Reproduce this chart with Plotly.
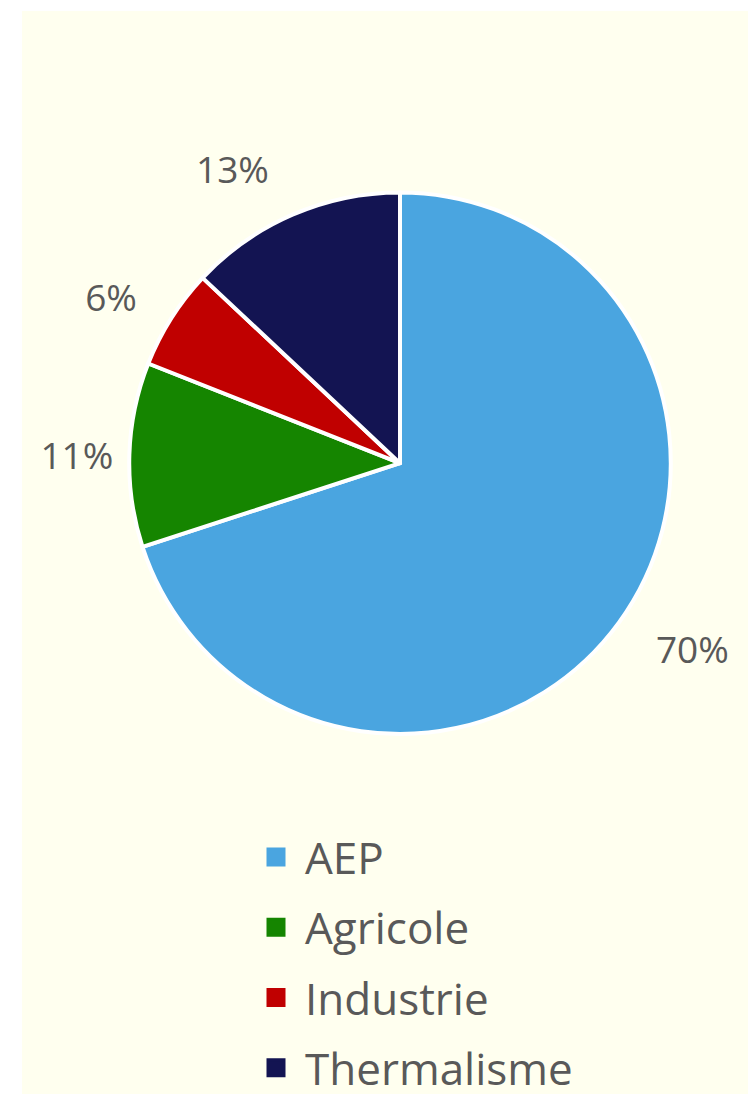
import plotly.graph_objects as go

categories = ["AEP", "Agricole", "Industrie", "Thermalisme"]
values = [70, 11, 6, 13]
colors = ["#4AA5E0", "#158500", "#C00000", "#131452"]

# label offsets (style only): push outside labels a bit further out, like the original
label_pull = [0.11, 0.012, 0.095, 0.10]

W, H = 748, 1103
cx, cy, r = 400, 467, 273
TEXT = "#595959"


def domain(radius):
    return dict(x=[(cx - radius) / W, (cx + radius) / W],
                y=[1 - (cy + radius) / H, 1 - (cy - radius) / H])


fig = go.Figure()
# visible pie
fig.add_trace(go.Pie(
    labels=categories, values=values, sort=False, direction="clockwise", rotation=0,
    marker=dict(colors=colors, line=dict(color="#FFFFFF", width=4)),
    textinfo="none", domain=domain(r), showlegend=False,
    hoverinfo="label+percent",
))
# transparent copy used only to place the outside percentage labels
maxpull = max(label_pull)
fig.add_trace(go.Pie(
    labels=categories, values=values, sort=False, direction="clockwise", rotation=0,
    pull=label_pull,
    marker=dict(colors=["rgba(0,0,0,0)"] * len(values), line=dict(width=0)),
    texttemplate="%{percent:.0%}", textposition="outside",
    outsidetextfont=dict(family="Open Sans", size=37, color=TEXT),
    domain=domain(r * (1 + maxpull)), showlegend=False, hoverinfo="skip",
    automargin=False,
))
# legend entries
for i, (cat, col) in enumerate(zip(categories, colors)):
    fig.add_trace(go.Scatter(
        x=[None], y=[None], mode="markers", name=cat, legendgroup=cat,
        marker=dict(symbol="square", size=16, color=col, line=dict(color=col, width=3)),
        showlegend=True, hoverinfo="skip",
    ))

fig.update_layout(
    width=W, height=H,
    margin=dict(l=0, r=0, t=0, b=0),
    paper_bgcolor="#FFFFFF",
    plot_bgcolor="rgba(0,0,0,0)",
    xaxis=dict(visible=False), yaxis=dict(visible=False),
    showlegend=True,
    legend=dict(
        x=247 / W, y=1 - 829 / H, xanchor="left", yanchor="top",
        font=dict(family="Open Sans", size=44, color=TEXT),
        bgcolor="rgba(0,0,0,0)",
        itemwidth=48, tracegroupgap=10, itemclick=False, itemdoubleclick=False,
    ),
    shapes=[dict(type="rect", xref="paper", yref="paper", x0=22 / W, x1=1, y0=0, y1=1 - 11 / H,
                 fillcolor="#FFFFEF", line=dict(width=0), layer="below")],
)

fig.write_html("out.html")
